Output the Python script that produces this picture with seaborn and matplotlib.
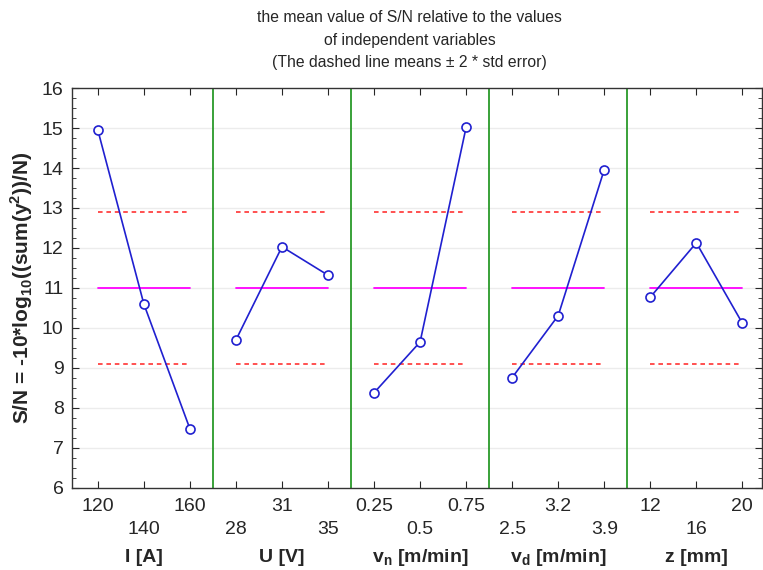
import numpy as np
import pandas as pd
import matplotlib
matplotlib.use("Agg")
import matplotlib.pyplot as plt
import seaborn as sns

groups = ["I [A]", "U [V]", "v$_\\mathregular{n}$ [m/min]", "v$_\\mathregular{d}$ [m/min]", "z [mm]"]
levels = [["120", "140", "160"], ["28", "31", "35"], ["0.25", "0.5", "0.75"],
          ["2.5", "3.2", "3.9"], ["12", "16", "20"]]
sn_I = [14.95, 10.60, 7.48]
sn_U = [9.70, 12.03, 11.32]
sn_vn = [8.38, 9.65, 15.02]
sn_vd = [8.76, 10.31, 13.96]
sn_z = [10.77, 12.13, 10.12]
grand_mean = 11.0
upper_lim = 12.9
lower_lim = 9.1

series = [sn_I, sn_U, sn_vn, sn_vd, sn_z]
rows = []
for g, (name, vals) in enumerate(zip(groups, series)):
    for k, v in enumerate(vals):
        rows.append({"group": name, "pos": g * 3 + k, "sn": v})
df = pd.DataFrame(rows)

sns.set_style("white")
plt.rcParams['font.family'] = ['Liberation Sans', 'DejaVu Sans']

fig = plt.figure(figsize=(7.63, 5.70), dpi=100)
ax = fig.add_axes([0.0944, 0.1439, 0.9045, 0.7017])

# faint gridlines
for yv in range(7, 16):
    ax.axhline(yv, color="#ececec", lw=1, zorder=0)

for g, name in enumerate(groups):
    sub = df[df["group"] == name]
    x0, x1 = g * 3, g * 3 + 2
    ax.plot([x0, x1], [grand_mean, grand_mean], color="#ff00ff", lw=1.3, zorder=1)
    ax.plot([x0, x1 - 0.06], [upper_lim, upper_lim], color="#ff2020", lw=1.1, ls=(0, (3, 2.5)), zorder=1)
    ax.plot([x0, x1 - 0.06], [lower_lim, lower_lim], color="#ff2020", lw=1.1, ls=(0, (3, 2.5)), zorder=1)
    sns.lineplot(data=sub, x="pos", y="sn", ax=ax, color="#2020d0", lw=1.2,
                 marker="o", markersize=6.5, markerfacecolor="white",
                 markeredgecolor="#2020d0", markeredgewidth=1.2, estimator=None,
                 zorder=3, legend=False)
    if g < 4:
        ax.axvline(x1 + 0.5, color="#2a9a2a", lw=1.3, zorder=2)

ax.set_xlim(-0.56, 14.43)
ax.set_ylim(6, 16)
ax.set_yticks(range(6, 17))
ax.set_yticks(np.arange(6, 16.01, 0.25), minor=True)
ax.tick_params(axis="y", which="major", direction="in", length=5, labelsize=14, left=True, right=True, pad=6)
ax.tick_params(axis="y", which="minor", direction="in", length=3, left=True, right=True)

ticklabels = []
for g in range(5):
    for k in range(3):
        i = g * 3 + k
        lab = levels[g][k]
        ticklabels.append(lab if i % 2 == 0 else "\n" + lab)
ax.set_xticks(range(15))
ax.set_xticklabels(ticklabels, fontsize=14, linespacing=1.45)
ax.tick_params(axis="x", direction="in", length=5, top=True, bottom=True, pad=7)
ax.set_xlabel("")
ax.set_ylabel("S/N = -10*log$_\\mathregular{10}$((sum(y$^\\mathregular{2}$))/N)",
              fontsize=15, fontweight="bold", labelpad=5)

for g, name in enumerate(groups):
    ax.text(g * 3 + 1, -0.175, name, transform=ax.get_xaxis_transform(),
            ha="center", va="center", fontsize=14, fontweight="bold")

for s in ax.spines.values():
    s.set_color("#333333")
    s.set_linewidth(1.0)

fig.text(0.537, 1 - 18 / 570, "the mean value of S/N relative to the values",
         ha="center", va="center", fontsize=11.3)
fig.text(0.537, 1 - 40 / 570, "of independent variables",
         ha="center", va="center", fontsize=11.3)
fig.text(0.537, 1 - 63 / 570, "(The dashed line means \u00b1 2 * std error)",
         ha="center", va="center", fontsize=11.3)

fig.savefig("out.png", dpi=100)
